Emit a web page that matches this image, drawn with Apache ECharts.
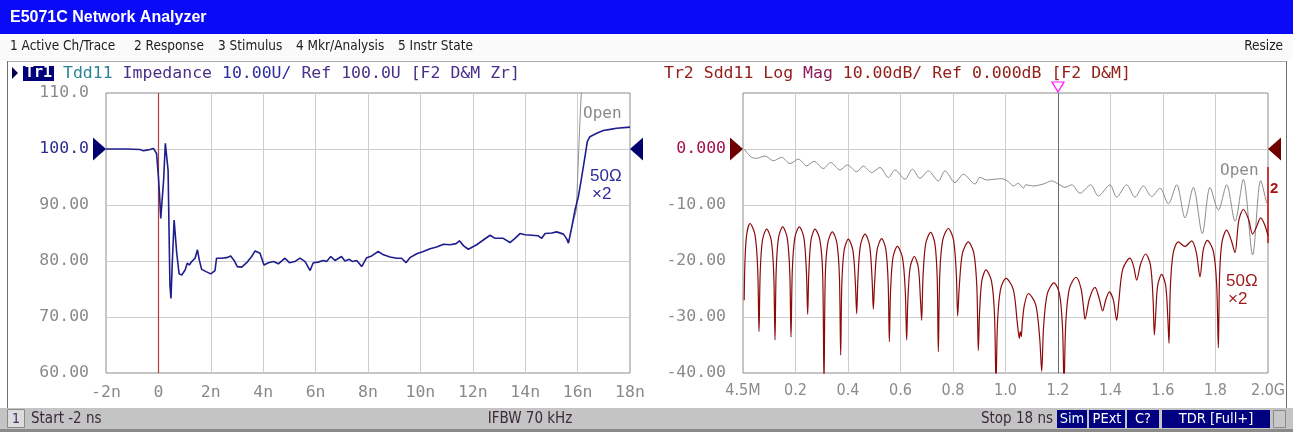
<!DOCTYPE html>
<html><head><meta charset="utf-8">
<script src="https://cdn.jsdelivr.net/npm/echarts@6/dist/echarts.min.js"></script>
<style>html,body{margin:0;padding:0;background:#fff;}#c{width:1293px;height:432px;}</style>
</head><body><div id="c"></div>
<script>
// ---------- data ----------
const tdrTicksX = [-2, 0, 2, 4, 6, 8, 10, 12, 14, 16, 18];
const freqTickLabels = ['4.5M','0.2','0.4','0.6','0.8','1.0','1.2','1.4','1.6','1.8','2.0G'];
const menuItems = ['1 Active Ch/Trace','2 Response','3 Stimulus','4 Mkr/Analysis','5 Instr State'];

// Tr1: Tdd11 impedance (time ns, ohm), 50 ohm x2 load
const tdd11 = [[-2,100.0],[-1.2,100.0],[-0.70,99.9],[-0.58,99.7],[-0.45,99.8],[-0.32,99.9],[-0.19,100.1],[-0.13,100.4],[-0.07,99.2],[0.0,95.1],[0.04,92.1],[0.09,87.6],[0.15,87.3],[0.2,94.5],[0.265,101.0],[0.32,101.3],[0.37,96.2],[0.40,87.3],[0.44,75.7],[0.48,73.3],[0.53,79.6],[0.60,87.3],[0.65,87.4],[0.70,81.4],[0.79,77.7],[0.89,77.5],[1.02,78.4],[1.10,79.6],[1.18,79.3],[1.27,79.9],[1.40,80.5],[1.49,82.0],[1.56,80.2],[1.65,78.5],[1.82,78.1],[2.0,77.7],[2.16,78.3],[2.22,80.5],[2.41,80.5],[2.60,80.6],[2.76,80.9],[2.89,80.1],[3.01,79.0],[3.18,78.9],[3.37,79.7],[3.56,80.8],[3.69,81.8],[3.88,81.4],[4.03,79.3],[4.20,79.7],[4.39,79.9],[4.58,79.5],[4.83,80.5],[5.0,79.7],[5.21,79.9],[5.40,80.5],[5.60,79.9],[5.79,78.3],[5.91,79.7],[6.10,79.8],[6.29,80.1],[6.42,79.9],[6.58,80.8],[6.74,80.1],[6.99,80.8],[7.12,80.0],[7.29,80.3],[7.41,79.9],[7.57,80.1],[7.76,79.0],[7.95,80.6],[8.14,80.9],[8.39,81.7],[8.59,81.1],[8.84,80.7],[9.09,80.5],[9.28,80.5],[9.45,79.7],[9.6,80.6],[9.86,81.3],[10.11,81.7],[10.37,82.2],[10.62,82.5],[10.88,83.0],[11.13,82.9],[11.36,83.1],[11.49,83.6],[11.65,82.7],[11.83,82.1],[12.15,82.9],[12.40,83.75],[12.66,84.6],[12.85,84.05],[13.16,84.05],[13.42,83.3],[13.61,84.05],[13.80,84.9],[13.99,84.7],[14.25,84.6],[14.50,84.5],[14.63,84.05],[14.76,84.9],[15.01,85.0],[15.20,85.2],[15.46,84.8],[15.59,83.9],[15.65,83.2],[15.78,86.1],[15.90,89.1],[16.03,91.5],[16.16,95.1],[16.28,98.6],[16.37,101.3],[16.47,102.2],[16.73,102.8],[16.98,103.3],[17.24,103.5],[17.49,103.7],[18,103.9]];
// Tr1 open reference (only the part that departs from the load trace)
const tdd11Open = [[15.59,83.9],[15.65,83.2],[15.78,86.1],[15.95,89.0],[16.08,104],[16.16,112]];

// Tr2: Sdd11 log mag (GHz, dB)
const sdd11Open = [[0.0045,0],[0.03,-1.4],[0.052,-1.67],[0.0838,-1.25],[0.1156,-2.1],[0.1473,-1.5],[0.1791,-2.6],[0.2108,-1.8],[0.2425,-3.0],[0.2705,-2.2],[0.306,-3.5],[0.334,-2.4],[0.3695,-3.75],[0.3975,-2.85],[0.433,-4.05],[0.4584,-3.05],[0.4902,-4.2],[0.5219,-3.3],[0.5537,-5.1],[0.579,-3.75],[0.6171,-5.4],[0.6451,-3.6],[0.6743,-5.24],[0.706,-3.9],[0.7441,-5.7],[0.7695,-3.9],[0.8076,-6.0],[0.8394,-4.5],[0.8838,-6.25],[0.9029,-5.06],[0.9283,-5.54],[0.9537,-5.42],[0.9854,-5.3],[1.0108,-5.83],[1.0299,-6.6],[1.0489,-6.13],[1.068,-7.0],[1.077,-6.4],[1.1061,-6.6],[1.1442,-6.25],[1.176,-5.7],[1.2013,-6.25],[1.2267,-6.85],[1.2521,-6.4],[1.2839,-7.9],[1.3245,-6.4],[1.3537,-8.4],[1.3981,-6.4],[1.4235,-8.6],[1.4616,-6.4],[1.4933,-8.6],[1.525,-6.6],[1.5568,-8.5],[1.5886,-7.0],[1.6203,-9.8],[1.652,-6.4],[1.6838,-12.3],[1.7155,-6.85],[1.7498,-15.1],[1.779,-6.85],[1.8108,-10.9],[1.8425,-6.4],[1.8743,-12.9],[1.906,-5.42],[1.9416,-18.9],[1.972,-5.65],[1.995,-9.7]];
const sdd11Load = [
[0.0045,-27],[0.0075,-20],[0.014,-15.3],[0.0267,-13.3],[0.0456,-15.3],[0.0559,-21.3],[0.061,-32.6],
[0.0654,-22.3],[0.0741,-16.3],[0.0902,-14.3],[0.1076,-16.3],[0.1171,-22.3],[0.1219,-34.1],
[0.1263,-21.9],[0.1350,-15.9],[0.1511,-13.9],[0.1686,-15.9],[0.1781,-21.9],[0.1829,-33.6],
[0.1877,-21.9],[0.1972,-15.9],[0.2146,-13.9],[0.2321,-15.9],[0.2416,-21.9],[0.2464,-29.5],
[0.2506,-22.3],[0.2590,-16.3],[0.2743,-14.3],[0.2932,-16.3],[0.3035,-22.3],[0.3086,-42],
[0.3134,-22.8],[0.3229,-16.8],[0.3403,-14.8],[0.3578,-16.8],[0.3673,-22.8],[0.3721,-36.8],
[0.3765,-24.1],[0.3852,-18.1],[0.4013,-16.1],[0.4187,-18.1],[0.4282,-24.1],[0.4330,-29.4],
[0.4378,-23.2],[0.4473,-17.2],[0.4648,-15.2],[0.4822,-17.2],[0.4917,-23.2],[0.4965,-28.6],
[0.5013,-24],[0.5108,-18],[0.5283,-16.0],[0.5444,-18],[0.5531,-24],[0.5575,-34.4],
[0.5621,-25.4],[0.5712,-19.4],[0.5879,-17.4],[0.6075,-19.4],[0.6182,-25.4],[0.6235,-34.1],
[0.6279,-27.2],[0.6366,-21.2],[0.6527,-19.2],[0.6680,-21.2],[0.6764,-27.2],[0.6806,-30.6],
[0.6857,-22.9],[0.6960,-16.9],[0.7149,-14.9],[0.7310,-16.9],[0.7397,-22.9],[0.7441,-36.2],
[0.7498,-22.2],[0.7612,-16.2],[0.7822,-14.2],[0.8018,-16.2],[0.8125,-22.2],[0.8178,-29.8],
[0.8239,-24.6],[0.8361,-18.6],[0.8584,-16.6],[0.8794,-18.6],[0.8908,-24.6],[0.8965,-36],
[0.9009,-29.6],[0.9096,-23.6],[0.9257,-21.6],[0.9467,-23.6],[0.9581,-29.6],[0.9638,-42],
[0.9695,-31.1],[0.9809,-25.1],[1.0019,-23.1],[1.0298,-25.1],[1.0451,-31.1],[1.0527,-33.8],[1.056,-32.6],[1.060,-33.5],
[1.064,-31],[1.0722,-27.8],[1.087,-25.8],[1.115,-27.8],[1.1303,-33.8],[1.1379,-39.7],
[1.1449,-31.9],[1.159,-25.9],[1.1848,-23.9],[1.2058,-25.9],[1.2172,-31.9],[1.2229,-42],
[1.2298,-30.9],[1.2435,-24.9],[1.2686,-22.9],[1.2875,-24.9],[1.2978,-28.5],[1.3029,-30.4],
[1.320,-26.7],[1.341,-24.7],[1.357,-26.7],[1.3702,-28.9],
[1.3816,-27],[1.3956,-25.5],[1.411,-27],[1.4235,-30.6],
[1.4311,-27.5],[1.4464,-21.5],[1.4743,-19.5],[1.4883,-21],[1.4997,-23.4],
[1.5151,-20.5],[1.534,-18.75],[1.5522,-20.75],[1.5621,-26.75],[1.567,-33.2],
[1.5712,-30.4],[1.5796,-24.4],[1.5949,-22.4],[1.6102,-24.4],[1.6186,-30.4],[1.6228,-34.7],
[1.6281,-24.6],[1.6388,-18.6],[1.6584,-16.6],[1.6838,-17.4],[1.7092,-16.4],[1.7266,-18.4],[1.7409,-22.8],
[1.7535,-18],[1.7688,-16.3],[1.7919,-18.3],[1.8045,-24.3],[1.8108,-35.5],
[1.8156,-22.5],[1.8251,-16.5],[1.8425,-14.5],[1.86,-16.3],[1.8743,-18.5],
[1.8886,-12.8],[1.906,-10.8],[1.9256,-12.5],[1.9416,-15.2],
[1.9553,-14],[1.972,-12.3],[1.987,-13.5],[2.0,-15.5]];

const refImpedance = 100;   // Tr1 reference line value
const refDb = 0;            // Tr2 reference line value
const gateTime = 0;         // red vertical line (ns)
const markerFreq = 1.2;     // marker 1 (GHz)
const tr2EndBar = [-3.2, -16.8]; // short trace-2 bar at the right edge (dB)

// ---------- style ----------
const mono = "'DejaVu Sans Mono','Liberation Mono',monospace";
const cond = "'DejaVu Sans Condensed','Liberation Sans Narrow','Liberation Sans',sans-serif";
const sans = "'Liberation Sans','Arial',sans-serif";
const gridGray = '#cdcdcd', frameGray = '#8c8c8c', labelGray = '#8a8a8a';
const navy = '#1e1e8e', maroon = '#8c0a0a';

const chart = echarts.init(document.getElementById('c'), null, {renderer: 'canvas'});

function txt(text, x, y, o) {
  return {type: 'text', z: 50, silent: true, style: Object.assign({text: text, x: x, y: y, fill: '#202020', fontSize: 13, fontFamily: cond, align: 'left', verticalAlign: 'middle'}, o || {})};
}
function rect(x, y, w, h, fill, stroke, z) {
  return {type: 'rect', z: z === undefined ? 40 : z, silent: true, shape: {x: x, y: y, width: w, height: h}, style: {fill: fill, stroke: stroke || null, lineWidth: 1}};
}
const menuX = [10, 134, 218, 296, 398];
const graphics = [
  rect(0, 0, 1293, 432, '#ffffff', null, 0),
  rect(0, 0, 1293, 34, '#0a0af8'),
  txt('E5071C Network Analyzer', 10, 18, {fill: '#ffffff', fontSize: 16, fontWeight: 'bold', fontFamily: sans}),
  rect(0, 34, 1293, 26, '#fafafa'),
  txt('Resize', 1283, 46, {align: 'right', fontSize: 13.5}),
  {type: 'line', z: 41, silent: true, shape: {x1: 7, y1: 61.5, x2: 1287, y2: 61.5}, style: {stroke: '#a8a8a8', lineWidth: 1}},
  {type: 'line', z: 41, silent: true, shape: {x1: 7.5, y1: 61, x2: 7.5, y2: 408}, style: {stroke: '#707070', lineWidth: 1}},
  {type: 'line', z: 41, silent: true, shape: {x1: 1286.5, y1: 61, x2: 1286.5, y2: 408}, style: {stroke: '#707070', lineWidth: 1}},
  // trace header
  {type: 'polygon', z: 45, silent: true, shape: {points: [[12, 67], [18, 73], [12, 79]]}, style: {fill: '#000050'}},
  rect(23, 66, 31, 15, '#00007a'),
  txt('Tr1', 38.5, 73.5, {fill: '#ffffff', fontFamily: mono, fontSize: 15, fontWeight: 'bold', align: 'center'}),
  txt('{a|Tdd11} {b|Impedance} {c|10.00U/} {b|Ref 100.0U [F2 D&M Zr]}', 63, 73.5, {fontFamily: mono, fontSize: 16.5,
    rich: {a: {fill: '#2a8496', fontFamily: mono, fontSize: 16.5}, b: {fill: '#4a2f8a', fontFamily: mono, fontSize: 16.5}, c: {fill: '#2c2c9c', fontFamily: mono, fontSize: 16.5}}}),
  txt('{a|Tr2 Sdd11 Log} {b|Mag} {a|10.00dB/ Ref 0.000dB [F2 D&M]}', 664, 73.5, {fontFamily: mono, fontSize: 16.5,
    rich: {a: {fill: '#93201a', fontFamily: mono, fontSize: 16.5}, b: {fill: '#8a1a5a', fontFamily: mono, fontSize: 16.5}}}),
  // annotations
  txt('Open', 583, 114, {fill: labelGray, fontFamily: mono, fontSize: 16}),
  txt('50\u03a9', 590, 176, {fill: '#2c2c9c', fontFamily: sans, fontSize: 17}),
  txt('\u00d72', 592, 194, {fill: '#2c2c9c', fontFamily: sans, fontSize: 17}),
  txt('Open', 1220, 171, {fill: labelGray, fontFamily: mono, fontSize: 16}),
  txt('2', 1270, 189, {fill: '#b01010', fontFamily: sans, fontSize: 15, fontWeight: 'bold'}),
  txt('50\u03a9', 1226, 281, {fill: '#9a1a1a', fontFamily: sans, fontSize: 17}),
  txt('\u00d72', 1228, 299, {fill: '#9a1a1a', fontFamily: sans, fontSize: 17}),
  // status bar
  rect(0, 408, 1293, 21, '#c4c4c4'),
  rect(0, 429, 1293, 3, '#8a8a8a'),
  rect(7.5, 409.5, 17, 18, '#dcdcdc', '#8a8a8a'),
  txt('1', 16, 419, {fill: '#4a2a6a', align: 'center', fontSize: 14}),
  txt('Start -2 ns', 31, 419, {fill: '#3a2a3a', fontSize: 15}),
  txt('IFBW 70 kHz', 530, 419, {fill: '#3a2a3a', fontSize: 15, align: 'center'}),
  txt('Stop 18 ns', 1053, 419, {fill: '#3a2a3a', fontSize: 15, align: 'right'}),
  rect(1057, 410, 30, 18, '#000080'),
  txt('Sim', 1072, 419, {fill: '#e8ffff', fontSize: 14.5, align: 'center'}),
  rect(1089, 410, 36, 18, '#000080'),
  txt('PExt', 1107, 419, {fill: '#ffffff', fontSize: 14.5, align: 'center'}),
  rect(1127, 410, 32, 18, '#000080'),
  txt('C?', 1143, 419, {fill: '#ffffff', fontSize: 14.5, align: 'center'}),
  rect(1162, 410, 108, 18, '#000080'),
  txt('TDR [Full+]', 1216, 419, {fill: '#ffffff', fontSize: 14.5, align: 'center'}),
  rect(1273.5, 410.5, 12, 17, '#c8c8c8', '#8a8a8a')
];
menuItems.forEach(function (m, i) { graphics.push(txt(m, menuX[i], 46, {fontSize: 13.5})); });

const triR = 'path://M0,0L13,11.5L0,23Z';
const triL = 'path://M13,0L0,11.5L13,23Z';
const triDown = 'path://M0,0L12,0L6,10Z';

const option = {
  animation: false,
  backgroundColor: 'transparent',
  graphic: {elements: graphics},
  grid: [
    {left: 106, top: 93, width: 524, height: 280, show: true, borderColor: frameGray, borderWidth: 1, backgroundColor: 'rgba(0,0,0,0)', z: 60},
    {left: 743, top: 93, width: 525, height: 280, show: true, borderColor: frameGray, borderWidth: 1, backgroundColor: 'rgba(0,0,0,0)', z: 60}
  ],
  xAxis: [
    {type: 'value', gridIndex: 0, min: tdrTicksX[0], max: tdrTicksX[tdrTicksX.length - 1], interval: 2, z: 60,
      axisLine: {show: false}, axisTick: {show: false},
      splitLine: {show: true, showMinLine: false, showMaxLine: false, lineStyle: {color: gridGray, width: 1}},
      axisLabel: {margin: 11, fontFamily: mono, fontSize: 16.5, color: labelGray, showMinLabel: true, showMaxLabel: true,
        formatter: function (v) { return v === 0 ? '0' : v + 'n'; }}},
    {type: 'value', gridIndex: 1, min: 0, max: 2, interval: 0.2, z: 60,
      axisLine: {show: false}, axisTick: {show: false},
      splitLine: {show: true, showMinLine: false, showMaxLine: false, lineStyle: {color: gridGray, width: 1}},
      axisLabel: {margin: 10, fontFamily: cond, fontSize: 16, color: labelGray, showMinLabel: true, showMaxLabel: true,
        formatter: function (v) { return freqTickLabels[Math.round(v / 0.2)]; }}}
  ],
  yAxis: [
    {type: 'value', gridIndex: 0, min: 60, max: 110, interval: 10, z: 60,
      axisLine: {show: false}, axisTick: {show: false},
      splitLine: {show: true, showMinLine: false, showMaxLine: false, lineStyle: {color: gridGray, width: 1}},
      axisLabel: {margin: 17, fontFamily: mono, fontSize: 16.5, showMinLabel: true, showMaxLabel: true,
        color: function (v) { return Number(v) === refImpedance ? '#2c2c8c' : labelGray; },
        formatter: function (v) { return v >= 100 ? v.toFixed(1) : v.toFixed(2); }}},
    {type: 'value', gridIndex: 1, min: -40, max: 10, interval: 10, z: 60,
      axisLine: {show: false}, axisTick: {show: false},
      splitLine: {show: true, showMinLine: false, showMaxLine: false, lineStyle: {color: gridGray, width: 1}},
      axisLabel: {margin: 17, fontFamily: mono, fontSize: 16.5, showMinLabel: true, showMaxLabel: true,
        color: function (v) { return Number(v) === refDb ? '#a8104a' : labelGray; },
        formatter: function (v) { return v > 0 ? '' : (v === 0 ? '0.000' : v.toFixed(2)); }}}
  ],
  series: [
    {type: 'line', xAxisIndex: 0, yAxisIndex: 0, data: tdd11Open, symbol: 'none', z: 61,
      lineStyle: {color: '#909090', width: 1}},
    {type: 'line', xAxisIndex: 0, yAxisIndex: 0, data: tdd11, symbol: 'none', z: 63,
      lineStyle: {color: navy, width: 1.6},
      markLine: {silent: true, z: 62, symbol: 'none', label: {show: false}, animation: false,
        lineStyle: {color: '#b04038', width: 1.2, type: 'solid'}, data: [{xAxis: gateTime}]},
      markPoint: {silent: true, z: 70, label: {show: false}, animation: false, data: [
        {coord: [-2, refImpedance], symbol: triR, symbolSize: [13, 23], symbolOffset: [-6.5, 0], itemStyle: {color: '#00006e'}},
        {coord: [18, refImpedance], symbol: triL, symbolSize: [13, 23], symbolOffset: [6.5, 0], itemStyle: {color: '#00006e'}}
      ]}},
    {type: 'line', xAxisIndex: 1, yAxisIndex: 1, data: sdd11Open, symbol: 'none', z: 61, smooth: 0.3,
      lineStyle: {color: '#8c8c8c', width: 1}},
    {type: 'line', xAxisIndex: 1, yAxisIndex: 1, data: sdd11Load, symbol: 'none', z: 63, smooth: 0.3,
      lineStyle: {color: maroon, width: 1.2},
      markLine: {silent: true, z: 62, symbol: 'none', label: {show: false}, animation: false,
        lineStyle: {width: 1, type: 'solid'}, data: [
          {xAxis: markerFreq, lineStyle: {color: '#6a6a6a', width: 1, type: 'solid'}},
          [{coord: [2, tr2EndBar[0]], lineStyle: {color: '#c01010', width: 1.5, type: 'solid'}}, {coord: [2, tr2EndBar[1]]}]
        ]},
      markPoint: {silent: true, z: 70, label: {show: false}, animation: false, data: [
        {coord: [0, refDb], symbol: triR, symbolSize: [13, 23], symbolOffset: [-6.5, 0], itemStyle: {color: '#6e0000'}},
        {coord: [2, refDb], symbol: triL, symbolSize: [13, 23], symbolOffset: [6.5, 0], itemStyle: {color: '#6e0000'}},
        {coord: [markerFreq, 10], symbol: triDown, symbolSize: [12, 10], symbolOffset: [0, -6],
          itemStyle: {color: '#ffffff', borderColor: '#ff20ff', borderWidth: 1.3}}
      ]}}
  ]
};
chart.setOption(option);
</script></body></html>
